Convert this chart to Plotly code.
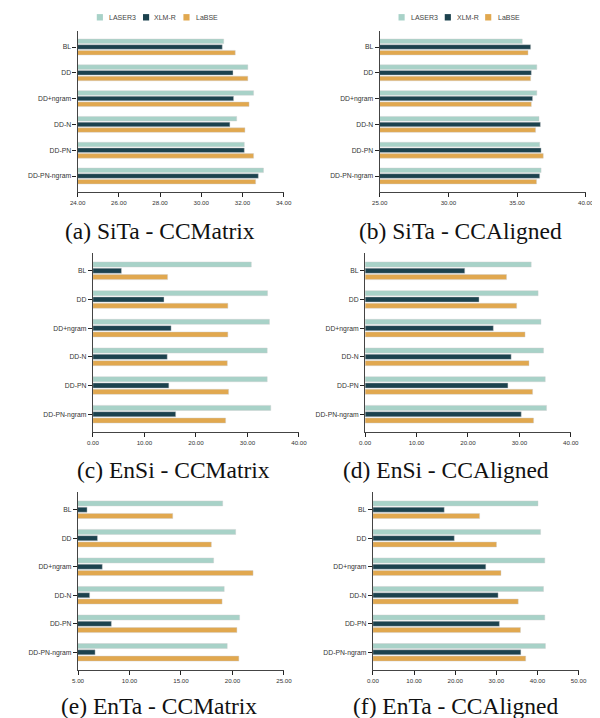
import plotly.graph_objects as go

categories = ["BL", "DD", "DD+ngram", "DD-N", "DD-PN", "DD-PN-ngram"]
series_names = ["LASER3", "XLM-R", "LaBSE"]
colors = ["#a8d2c8", "#1c424e", "#e1a84f"]

# (a) SiTa - CCMatrix
sita_ccm_laser3 = [31.09, 32.26, 32.54, 31.72, 32.09, 33.02]
sita_ccm_xlmr = [31.02, 31.54, 31.57, 31.39, 32.09, 32.77]
sita_ccm_labse = [31.65, 32.26, 32.32, 32.12, 32.54, 32.64]
# (b) SiTa - CCAligned
sita_cca_laser3 = [35.38, 36.44, 36.44, 36.60, 36.65, 36.75]
sita_cca_xlmr = [35.99, 36.04, 36.13, 36.70, 36.75, 36.65]
sita_cca_labse = [35.80, 35.99, 36.04, 36.35, 36.91, 36.42]
# (c) EnSi - CCMatrix
ensi_ccm_laser3 = [30.75, 33.90, 34.27, 33.84, 33.84, 34.53]
ensi_ccm_xlmr = [5.54, 13.80, 15.18, 14.43, 14.74, 16.07]
ensi_ccm_labse = [14.50, 26.20, 26.20, 26.09, 26.34, 25.77]
# (d) EnSi - CCAligned
ensi_cca_laser3 = [32.30, 33.64, 34.20, 34.70, 35.03, 35.28]
ensi_cca_xlmr = [19.37, 22.15, 24.93, 28.40, 27.77, 30.36]
ensi_cca_labse = [27.50, 29.47, 31.10, 31.87, 32.57, 32.76]
# (e) EnTa - CCMatrix
enta_ccm_laser3 = [19.05, 20.31, 18.17, 19.20, 20.69, 19.49]
enta_ccm_xlmr = [5.88, 6.89, 7.36, 6.13, 8.24, 6.66]
enta_ccm_labse = [14.20, 17.95, 22.00, 18.99, 20.43, 20.62]
# (f) EnTa - CCAligned
enta_cca_laser3 = [40.13, 40.76, 41.78, 41.47, 41.78, 41.94]
enta_cca_xlmr = [17.34, 19.78, 27.44, 30.43, 30.75, 35.96]
enta_cca_labse = [25.93, 30.04, 31.13, 35.32, 35.87, 37.14]

captions = ["(a) SiTa - CCMatrix", "(b) SiTa - CCAligned",
            "(c) EnSi - CCMatrix", "(d) EnSi - CCAligned",
            "(e) EnTa - CCMatrix", "(f) EnTa - CCAligned"]
x_ranges = [[24, 34], [25, 40], [0, 40], [0, 40], [5, 25], [0, 50]]
x_dticks = [2, 5, 10, 10, 5, 10]

panel_data = [
    [sita_ccm_laser3, sita_ccm_xlmr, sita_ccm_labse],
    [sita_cca_laser3, sita_cca_xlmr, sita_cca_labse],
    [ensi_ccm_laser3, ensi_ccm_xlmr, ensi_ccm_labse],
    [ensi_cca_laser3, ensi_cca_xlmr, ensi_cca_labse],
    [enta_ccm_laser3, enta_ccm_xlmr, enta_ccm_labse],
    [enta_cca_laser3, enta_cca_xlmr, enta_cca_labse],
]

W, H = 600, 718
# pixel layout of each panel: x from-to, y top-bottom, caption centre
px_x = [(63.3, 275.0), (373.7, 585.3), (79.0, 290.7), (358.7, 570.0), (63.7, 275.3), (366.7, 578.0)]
px_y = [(23, 184), (23, 184), (245, 424), (245, 424), (484, 662), (484, 662)]
cap_pos = [(147.5, 223), (457, 223), (162, 462), (442, 462), (147, 698), (452, 698)]

fig = go.Figure()
layout = dict(
    width=W, height=H, margin=dict(l=0, r=0, t=0, b=0),
    paper_bgcolor="white", plot_bgcolor="white",
    barmode="group", bargap=0.34, bargroupgap=0.2,
    showlegend=False, font=dict(family="Liberation Sans", color="#333"),
)

axis_col = "#444444"
for i in range(6):
    n = "" if i == 0 else str(i + 1)
    for s, name in enumerate(series_names):
        fig.add_trace(go.Bar(
            y=categories, x=panel_data[i][s], orientation="h", name=name,
            marker=dict(color=colors[s], line=dict(width=0.6, color="rgba(205,205,205,0.7)")),
            xaxis="x" + n, yaxis="y" + n, showlegend=False,
        ))
    x0, x1 = px_x[i]
    y0, y1 = px_y[i]
    layout["xaxis" + n] = dict(
        domain=[x0 / W, x1 / W], anchor="y" + n, range=x_ranges[i],
        tick0=x_ranges[i][0], dtick=x_dticks[i], tickformat=".2f",
        showline=True, linecolor=axis_col, linewidth=1.3,
        ticks="outside", ticklen=4, tickwidth=1, tickcolor="#222",
        showgrid=False, zeroline=False,
        tickfont=dict(size=6.2, color="#333", family="Liberation Sans"),
    )
    layout["yaxis" + n] = dict(
        domain=[1 - y1 / H, 1 - y0 / H], anchor="x" + n,
        type="category", range=[5.62, -0.62],
        showline=True, linecolor=axis_col, linewidth=1.3,
        ticks="outside", ticklen=4, tickwidth=1.2, tickcolor="#222",
        showgrid=False, zeroline=False,
        tickfont=dict(size=6.8, color="#333", family="Liberation Sans"),
    )

annotations = []
for i, cap in enumerate(captions):
    cx, cy = cap_pos[i]
    annotations.append(dict(
        text=cap, x=cx / W, y=1 - cy / H, xref="paper", yref="paper",
        xanchor="center", yanchor="middle", showarrow=False,
        font=dict(family="Liberation Serif", size=23.5, color="#111"),
    ))

# custom compact legends (one per column)
shapes = []
legend_swatch_x = [[83, 130.5, 172], [393, 440.5, 482]]
legend_text_x = [[93, 140, 183], [404, 451, 493]]
ly = 9.3
for col in range(2):
    for s, name in enumerate(series_names):
        sx = legend_swatch_x[col][s]
        shapes.append(dict(
            type="rect", xref="paper", yref="paper",
            x0=sx / W, x1=(sx + 6.3) / W, y0=1 - (ly + 3.2) / H, y1=1 - (ly - 3.2) / H,
            fillcolor=colors[s], line=dict(width=0),
        ))
        annotations.append(dict(
            text=name, x=legend_text_x[col][s] / W, y=1 - ly / H, xref="paper", yref="paper",
            xanchor="left", yanchor="middle", showarrow=False,
            font=dict(family="Liberation Sans", size=7, color="#444"),
        ))

layout["annotations"] = annotations
layout["shapes"] = shapes
fig.update_layout(**layout)
fig.write_html("out.html")
